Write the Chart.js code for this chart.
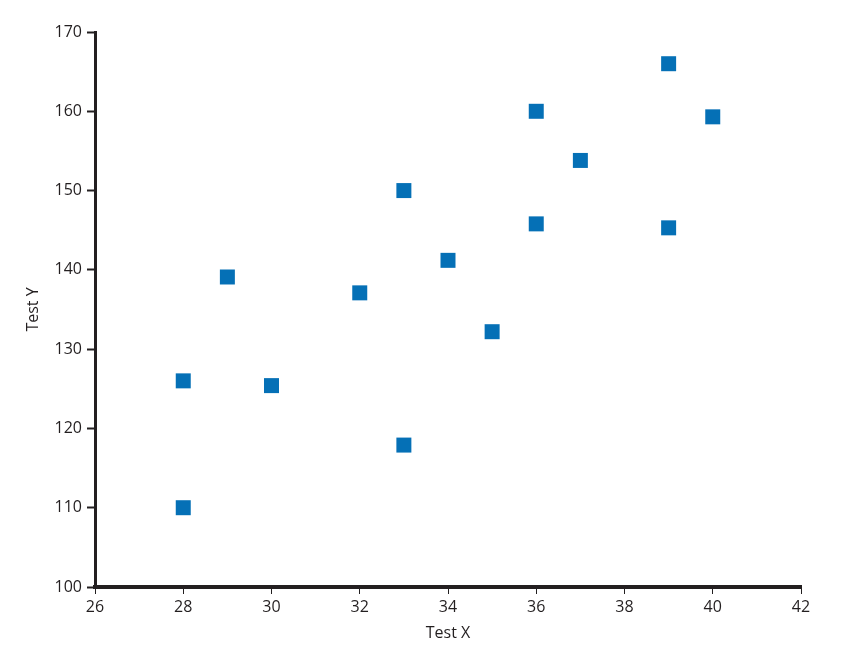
<!DOCTYPE html>
<html lang="en">
<head>
    <meta charset="UTF-8">
    <title>Test X vs Test Y</title>
    <script src="https://cdn.jsdelivr.net/npm/chart.js"></script>
    <style>
        body { margin: 0; background: #fff; }
        #wrap { width: 855px; height: 650px; }
    </style>
</head>
<body>
    <div id="wrap"><canvas id="scatterChart"></canvas></div>

    <script>
        // Values
        const testX = [28, 28, 29, 30, 32, 33, 33, 34, 35, 36, 36, 37, 39, 39, 40];
        const testY = [126, 110, 139.1, 125.4, 137.1, 150, 117.9, 141.2, 132.2, 160, 145.8, 153.8, 166, 145.3, 159.3];
        const xTicks = [26, 28, 30, 32, 34, 36, 38, 40, 42];
        const yTicks = [100, 110, 120, 130, 140, 150, 160, 170];

        const points = testX.map((x, i) => ({ x: x, y: testY[i] }));
        const ink = '#231f20';
        const font = { family: 'Open Sans', size: 16 };

        new Chart(document.getElementById('scatterChart'), {
            type: 'scatter',
            data: {
                datasets: [{
                    data: points,
                    pointStyle: 'rect',
                    pointRadius: 10.6,
                    pointHoverRadius: 10.6,
                    backgroundColor: '#0570b6',
                    borderWidth: 0
                }]
            },
            options: {
                responsive: true,
                maintainAspectRatio: false,
                animation: false,
                layout: { padding: { top: 32, right: 54, left: 0, bottom: 0 } },
                plugins: { legend: { display: false }, tooltip: { enabled: false } },
                scales: {
                    x: {
                        type: 'linear',
                        min: 26, max: 42,
                        afterBuildTicks: s => { s.ticks = xTicks.map(v => ({ value: v })); },
                        afterFit: s => { s.height = 63; },
                        border: { color: ink, width: 4 },
                        grid: { drawOnChartArea: false, drawTicks: true, tickLength: 7, tickWidth: 1, color: ink },
                        ticks: { color: ink, font: font, padding: 4 },
                        title: { display: true, text: 'Test X', color: ink, font: font, padding: { top: 0, bottom: 7 } }
                    },
                    y: {
                        type: 'linear',
                        min: 100, max: 170,
                        afterBuildTicks: s => { s.ticks = yTicks.map(v => ({ value: v })); },
                        afterFit: s => { s.width = 95; },
                        border: { color: ink, width: 3 },
                        grid: { drawOnChartArea: false, drawTicks: true, tickLength: 8, tickWidth: 2, color: ink },
                        ticks: { color: ink, font: font, padding: 5 },
                        title: { display: true, text: 'Test Y', color: ink, font: font, padding: { top: 24, bottom: 0 } }
                    }
                }
            }
        });
    </script>
</body>
</html>
